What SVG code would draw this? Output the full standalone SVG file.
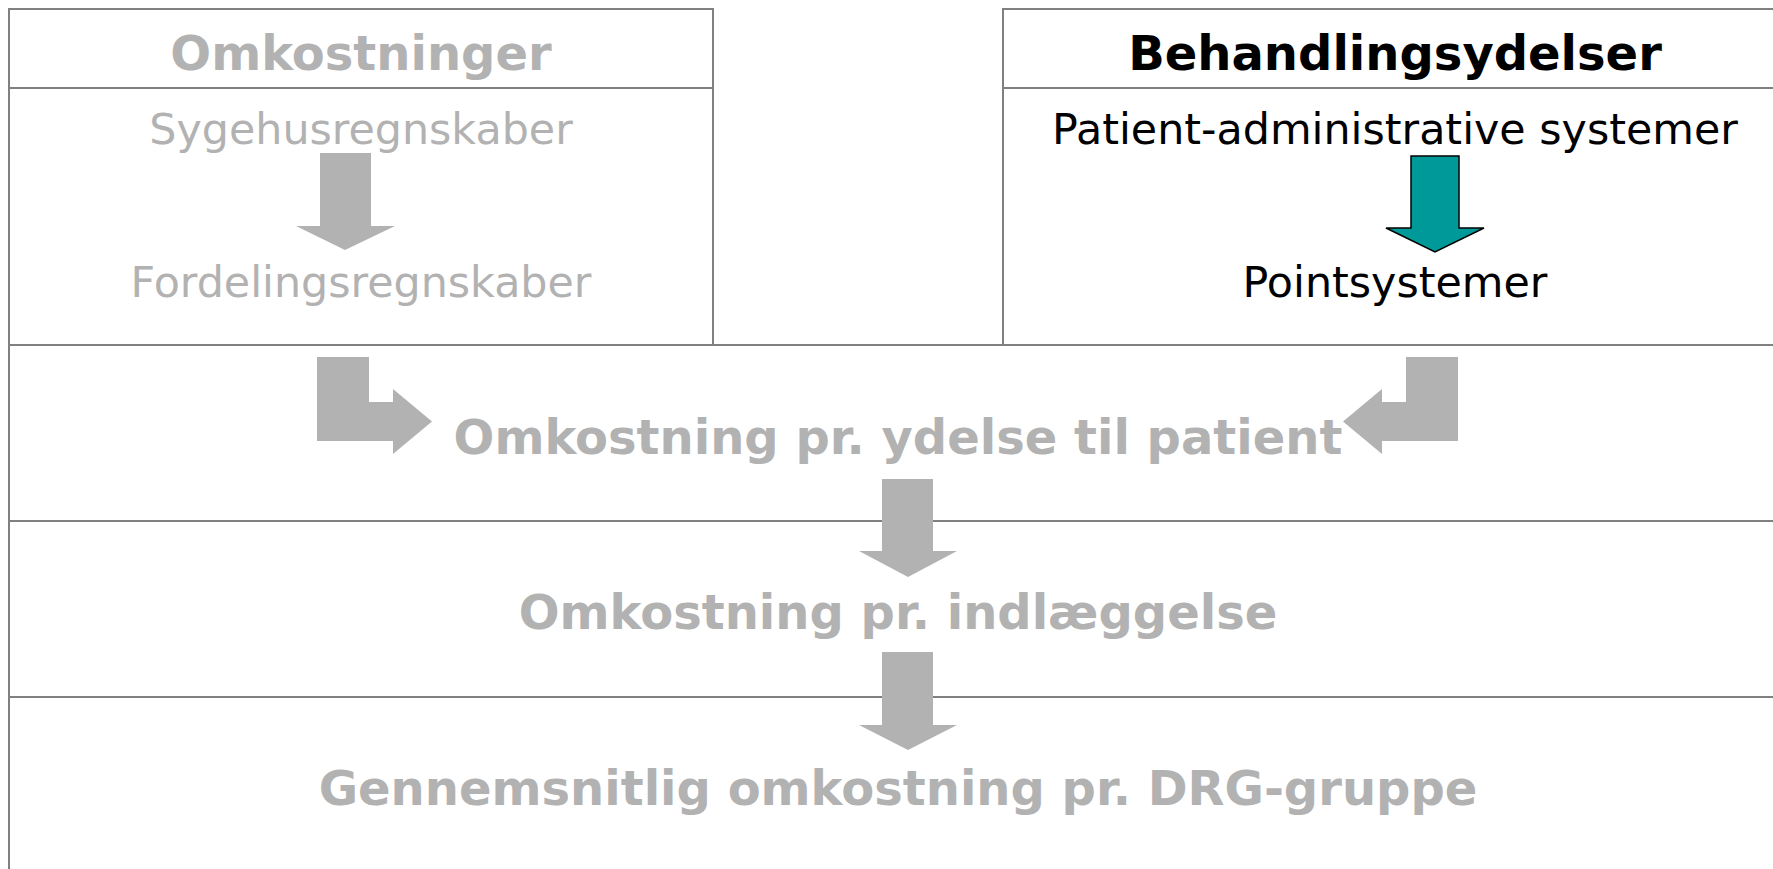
<svg xmlns="http://www.w3.org/2000/svg" width="1773" height="869" viewBox="0 0 1773 869">
<style>
.box{fill:none;stroke:#808080;stroke-width:2}
.t{font-family:"DejaVu Sans",Verdana,sans-serif;text-anchor:middle}
.b{font-weight:bold;font-size:48px}
.r{font-size:42.8px}
.g{fill:#b2b2b2}
.k{fill:#000}
.ga{fill:#b2b2b2;stroke:none}
.ta{fill:#009999;stroke:#000;stroke-width:1.5}
</style>
<rect width="1773" height="869" fill="#fff"/>
<g id="omkostninger">
<rect class="box" x="9" y="9" width="704" height="336"/>
<line class="box" x1="9" y1="88" x2="713" y2="88"/>
<text class="t b g" x="361" y="70">Omkostninger</text>
<text class="t r g" x="361" y="144">Sygehusregnskaber</text>
<text class="t r g" x="361" y="297">Fordelingsregnskaber</text>
</g>
<g id="behandlingsydelser">
<rect class="box" x="1003" y="9" width="784" height="336"/>
<line class="box" x1="1003" y1="88" x2="1787" y2="88"/>
<text class="t b k" x="1395" y="70">Behandlingsydelser</text>
<text class="t r k" x="1395" y="144">Patient-administrative systemer</text>
<text class="t r k" x="1395" y="297">Pointsystemer</text>
</g>
<g id="lower">
<rect class="box" x="9" y="345" width="1778" height="540"/>
<line class="box" x1="9" y1="521" x2="1787" y2="521"/>
<line class="box" x1="9" y1="697" x2="1787" y2="697"/>
<text class="t b g" x="898" y="454">Omkostning pr. ydelse til patient</text>
<text class="t b g" x="898" y="629">Omkostning pr. indlæggelse</text>
<text class="t b g" x="898" y="805">Gennemsnitlig omkostning pr. DRG-gruppe</text>
</g>
<g id="connectors">
<polygon class="ga" points="320,153 371,153 371,226 395,226 345,250 296,226 320,226"/>
<polygon class="ta" points="1411,156 1459,156 1459,228 1484,228 1435,252 1386,228 1411,228"/>
<polygon class="ga" points="317,357 369,357 369,402 393,402 393,389 432,421.5 393,454 393,441 317,441"/>
<polygon class="ga" points="1458,357 1406,357 1406,402 1382,402 1382,389 1343,421.5 1382,454 1382,441 1458,441"/>
<polygon class="ga" points="882,479 933,479 933,551 957,551 908,577 859,551 882,551"/>
<polygon class="ga" points="882,652 933,652 933,725 957,725 908,750 859,725 882,725"/>
</g>
</svg>
